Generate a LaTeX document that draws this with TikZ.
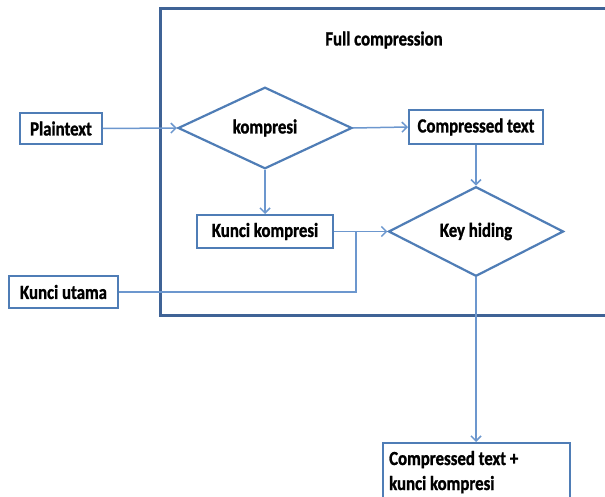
\documentclass[tikz,border=0pt]{standalone}
\usepackage{fontspec}
\setmainfont{Carlito}
\newfontfamily\lblfont{Carlito}[FakeStretch=0.84, BoldFeatures={FakeBold=1.2}]
\usetikzlibrary{shapes.geometric,arrows.meta}
\definecolor{framec}{HTML}{3F6396}
\definecolor{boxc}{HTML}{4F7DB6}
\definecolor{linec}{HTML}{6C97CE}
\tikzset{
  lbl/.style={font=\lblfont\fontsize{20}{25}\selectfont\bfseries, text=black},
  box/.style={lbl, draw=boxc, line width=2pt, fill=white, inner sep=0pt},
  decision/.style={lbl, diamond, draw=boxc, line width=2.2pt, fill=white, inner sep=0pt},
  conn/.style={draw=linec, line width=1.5pt},
  arr/.style={conn, -{Straight Barb[length=5pt,width=10pt,line width=1.5pt]}}
}
\begin{document}
\begin{tikzpicture}[x=1pt,y=-1pt]
\useasboundingbox (0,0) rectangle (605,497);
\clip (0,0) rectangle (605,497);
% outer frame of the full compression stage
\draw[framec, line width=3pt] (160,9) rectangle (640,315);
\node[lbl] (title) at (384,40) {Full compression};

% boxes
\node[box, minimum width=82pt, minimum height=31pt] (plain) at (61,128.5) {Plaintext};
\node[box, minimum width=134pt, minimum height=34pt] (ct) at (476,127) {Compressed text};
\node[box, minimum width=136pt, minimum height=33pt] (kk) at (265,231.5) {Kunci kompresi};
\node[box, minimum width=109pt, minimum height=32pt] (ku) at (63.5,292) {Kunci utama};
\node[box, minimum width=187pt, minimum height=80pt, anchor=north west] (out) at (382,442) {};
\node[lbl, anchor=base west, align=left, inner sep=0pt] (outtxt) at (389,490) {Compressed text +\\kunci kompresi};

% decisions
\node[decision, minimum width=174pt, minimum height=76pt] (komp) at (265,128) {kompresi};
\node[decision, minimum width=175pt, minimum height=81pt] (kh) at (476,231.5) {Key hiding};

% connectors
\coordinate (j) at (356,231.5);
\draw[arr] (plain.east) -- (komp.west);
\draw[arr] (komp.east) -- (ct.west);
\draw[arr] (ct.south) -- (kh.north);
\draw[arr] (komp.south) -- (kk.north);
\draw[arr] (kk.east) -- (kh.west);
\draw[conn] (ku.east) -| (j);
\draw[arr] (kh.south) -- (out.north -| kh.south);
\end{tikzpicture}
\end{document}
